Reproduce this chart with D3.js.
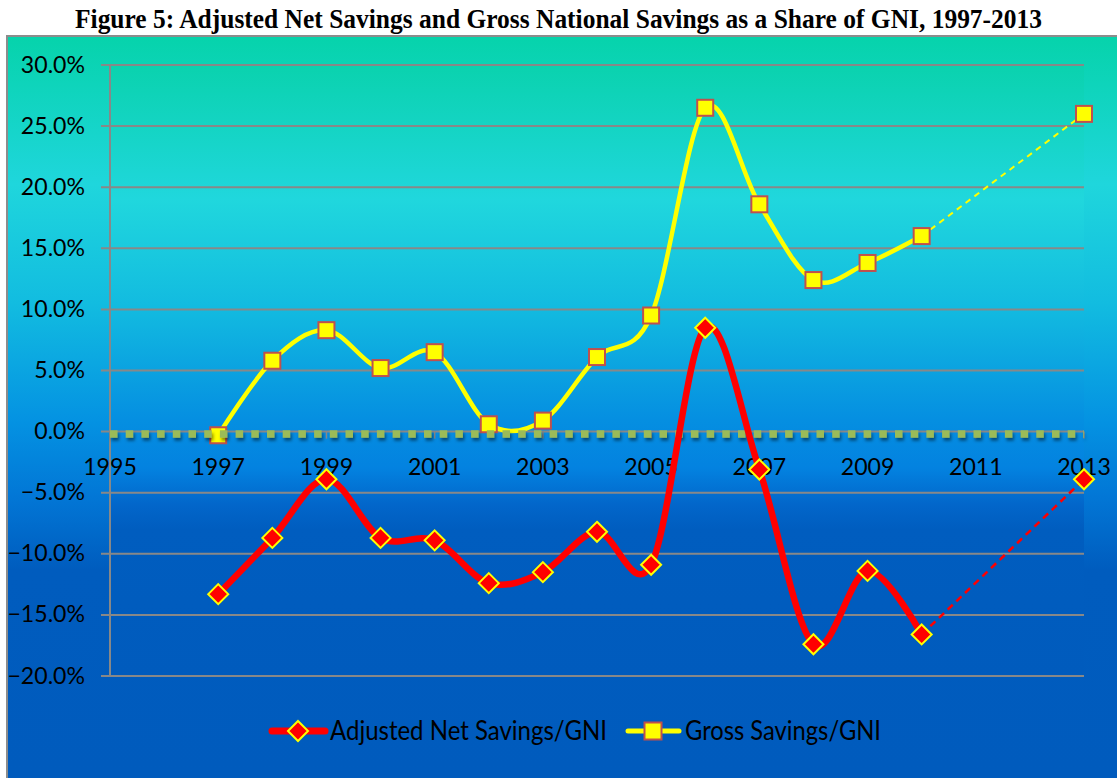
<!DOCTYPE html>
<html>
<head>
<meta charset="utf-8">
<script src="https://cdn.jsdelivr.net/npm/d3@7"></script>
<style>
html,body{margin:0;padding:0;background:#fff;}
svg{display:block;}
</style>
</head>
<body>
<svg id="chart" width="1117" height="778"></svg>
<script>
// ---- data ----
const years = [1997,1998,1999,2000,2001,2002,2003,2004,2005,2006,2007,2008,2009,2010,2013];
const adjustedNet = [-13.3,-8.7,-3.9,-8.7,-8.9,-12.4,-11.5,-8.2,-10.9,8.5,-3.1,-17.4,-11.4,-16.6,-3.9];
const grossSavings = [-0.3,5.8,8.3,5.2,6.5,0.6,0.9,6.1,9.5,26.5,18.6,12.4,13.8,16.0,26.0];
const baselineYears = [1995,2013];
const baselineValues = [-0.2,-0.2];
const yTicks = [30,25,20,15,10,5,0,-5,-10,-15,-20];
const xTicks = [1995,1997,1999,2001,2003,2005,2007,2009,2011,2013];
const seriesNames = ["Adjusted Net Savings/GNI","Gross Savings/GNI"];
const titleText = "Figure 5: Adjusted Net Savings and Gross National Savings as a Share of GNI, 1997-2013";

const svg = d3.select("#chart");
const W = 1117, H = 778;
const plot = {left:110, right:1084, top:65, bottom:676};
const x = d3.scaleLinear().domain([1995,2013]).range([plot.left, plot.right]);
const y = d3.scaleLinear().domain([-20,30]).range([plot.bottom, plot.top]);

const defs = svg.append("defs");
function grad(id, y1, y2, stops){
  const g = defs.append("linearGradient").attr("id",id)
    .attr("gradientUnits","userSpaceOnUse").attr("x1",0).attr("x2",0).attr("y1",y1).attr("y2",y2);
  stops.forEach(s=>g.append("stop").attr("offset",s[0]).attr("stop-color",s[1]));
}
grad("chartBg", 36, 778, [[0,"#06D3AB"],[0.2,"#1FD6DC"],[0.36,"#12BCE0"],[0.52,"#0492E2"],[0.62,"#0277D6"],[0.72,"#005CBE"],[1,"#005BBD"]]);
grad("plotBg", 65, 676, [[0,"#0AD2AE"],[0.22,"#20D7DD"],[0.4,"#12BAE0"],[0.58,"#058FE1"],[0.66,"#0382E0"],[0.72,"#0266CA"],[0.76,"#005DBF"],[1,"#005BBD"]]);
const sh = defs.append("filter").attr("id","shadow").attr("filterUnits","userSpaceOnUse")
  .attr("x",0).attr("y",400).attr("width",W).attr("height",80);
sh.append("feDropShadow").attr("dx",1.5).attr("dy",3).attr("stdDeviation",1.5).attr("flood-color","#000").attr("flood-opacity",0.45);

// title
svg.append("text").attr("transform",`translate(${W/2},28) scale(1,1.15)`).attr("text-anchor","middle")
  .attr("font-family","'Liberation Serif','Times New Roman',serif").attr("font-weight","bold")
  .attr("font-size",24).attr("textLength",967).attr("lengthAdjust","spacingAndGlyphs")
  .attr("fill","#000").text(titleText);

// chart area
svg.append("rect").attr("x",7).attr("y",36).attr("width",W).attr("height",H)
  .attr("fill","url(#chartBg)").attr("stroke","#8c8c8c").attr("stroke-width",2);
// plot area
svg.append("rect").attr("x",plot.left).attr("y",plot.top).attr("width",plot.right-plot.left).attr("height",plot.bottom-plot.top)
  .attr("fill","url(#plotBg)");

const gridColor = "#888888";
svg.append("g").selectAll("line").data(yTicks.filter(d=>d!==0)).join("line")
  .attr("x1",plot.left-9).attr("x2",plot.right).attr("y1",d=>y(d)).attr("y2",d=>y(d))
  .attr("stroke",gridColor).attr("stroke-width",2);
svg.append("line").attr("x1",plot.left).attr("x2",plot.left).attr("y1",plot.top).attr("y2",plot.bottom)
  .attr("stroke",gridColor).attr("stroke-width",2);
svg.append("line").attr("x1",plot.left-9).attr("x2",plot.right).attr("y1",y(0)).attr("y2",y(0))
  .attr("stroke",gridColor).attr("stroke-width",2);
svg.append("g").selectAll("line").data(xTicks.slice(1)).join("line")
  .attr("x1",d=>x(d)).attr("x2",d=>x(d)).attr("y1",y(0)).attr("y2",y(0)+7)
  .attr("stroke",gridColor).attr("stroke-width",1.5);

const labelFont = "Lato, 'Open Sans', sans-serif";
svg.append("g").selectAll("text").data(yTicks).join("text")
  .attr("transform",d=>`translate(85,${y(d)+7.5}) scale(1.1,1.12)`)
  .attr("text-anchor","end").attr("font-family",labelFont).attr("font-size",21).attr("fill","#000")
  .text(d=>d3.format(".1f")(d)+"%");
svg.append("g").selectAll("text").data(xTicks).join("text")
  .attr("transform",d=>`translate(${x(d)},${y(0)+43}) scale(1.1,1.12)`)
  .attr("text-anchor","middle").attr("font-family",labelFont).attr("font-size",21).attr("fill","#000")
  .text(d=>d);

const solidN = years.length-1;
function seriesPts(vals){ return years.map((yr,i)=>[x(yr), y(vals[i])]); }
const smooth = d3.line().curve(d3.curveCardinal.tension(0));

const gross = seriesPts(grossSavings);
const adj = seriesPts(adjustedNet);

svg.append("path").attr("d",smooth(gross.slice(0,solidN))).attr("fill","none")
  .attr("stroke","#FFFF00").attr("stroke-width",4.5).attr("stroke-linejoin","round");
svg.append("path").attr("d",d3.line()(gross.slice(solidN-1))).attr("fill","none")
  .attr("stroke","#FFFF00").attr("stroke-width",2).attr("stroke-dasharray","6,5");
svg.append("g").selectAll("rect").data(gross).join("rect")
  .attr("x",d=>d[0]-8).attr("y",d=>d[1]-8).attr("width",16).attr("height",16)
  .attr("fill","#FFFF00").attr("stroke","#C0504D").attr("stroke-width",2);

svg.append("path").attr("d",d3.line()(baselineYears.map((yr,i)=>[x(yr),y(baselineValues[i])])))
  .attr("fill","none").attr("stroke","#9BBB59").attr("stroke-width",7.5).attr("stroke-dasharray","7.5,8.2")
  .attr("filter","url(#shadow)");

svg.append("path").attr("d",smooth(adj.slice(0,solidN))).attr("fill","none")
  .attr("stroke","#FF0000").attr("stroke-width",6.5).attr("stroke-linejoin","round");
svg.append("path").attr("d",d3.line()(adj.slice(solidN-1))).attr("fill","none")
  .attr("stroke","#FF0000").attr("stroke-width",2.5).attr("stroke-dasharray","7,5");
const diamond = "M0,-10L10,0L0,10L-10,0Z";
svg.append("g").selectAll("path").data(adj).join("path")
  .attr("transform",d=>`translate(${d[0]},${d[1]})`).attr("d",diamond)
  .attr("fill","#FF0000").attr("stroke","#FFFF00").attr("stroke-width",2);

const lg = svg.append("g");
const legY = 731;
lg.append("line").attr("x1",272).attr("x2",325).attr("y1",legY).attr("y2",legY)
  .attr("stroke","#FF0000").attr("stroke-width",7).attr("stroke-linecap","round");
lg.append("path").attr("transform",`translate(298,${legY})`).attr("d",diamond)
  .attr("fill","#FF0000").attr("stroke","#FFFF00").attr("stroke-width",2);
lg.append("text").attr("transform",`translate(330,${legY+9}) scale(1,1.12)`)
  .attr("font-family",labelFont).attr("font-size",24).attr("fill","#000")
  .attr("textLength",277).attr("lengthAdjust","spacingAndGlyphs").text(seriesNames[0]);
lg.append("line").attr("x1",628).attr("x2",679).attr("y1",legY).attr("y2",legY)
  .attr("stroke","#FFFF00").attr("stroke-width",5).attr("stroke-linecap","round");
lg.append("rect").attr("x",653-8.5).attr("y",legY-8.5).attr("width",17).attr("height",17)
  .attr("fill","#FFFF00").attr("stroke","#C0504D").attr("stroke-width",2);
lg.append("text").attr("transform",`translate(685,${legY+9}) scale(1,1.12)`)
  .attr("font-family",labelFont).attr("font-size",24).attr("fill","#000")
  .attr("textLength",196).attr("lengthAdjust","spacingAndGlyphs").text(seriesNames[1]);
</script>
</body>
</html>
